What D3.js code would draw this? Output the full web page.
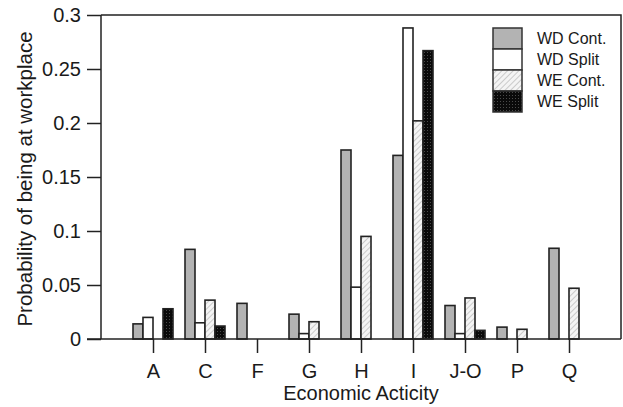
<!DOCTYPE html>
<html>
<head>
<meta charset="utf-8">
<script src="https://cdn.jsdelivr.net/npm/d3@7"></script>
<style>
  body { margin: 0; background: #fff; }
  svg { display: block; font-family: "Liberation Sans", Arial, sans-serif; }
</style>
</head>
<body>
<svg id="chart" width="623" height="407"></svg>
<script>
// Economic activity sections
const categories = ["A", "C", "F", "G", "H", "I", "J-O", "P", "Q"];
// Series names
const seriesNames = ["WD Cont.", "WD Split", "WE Cont.", "WE Split"];
// Probability of being at the workplace, per series
const wdCont  = [0.014, 0.083, 0.033, 0.023, 0.175, 0.170, 0.031, 0.011, 0.084];
const wdSplit = [0.020, 0.015, 0.000, 0.005, 0.048, 0.288, 0.005, 0.000, 0.000];
const weCont  = [0.000, 0.036, 0.000, 0.016, 0.095, 0.202, 0.038, 0.009, 0.047];
const weSplit = [0.028, 0.012, 0.000, 0.000, 0.000, 0.267, 0.008, 0.000, 0.000];
// Y axis ticks
const yTicks = [0, 0.05, 0.1, 0.15, 0.2, 0.25, 0.3];
const yTickLabels = ["0", "0.05", "0.1", "0.15", "0.2", "0.25", "0.3"];

const seriesValues = [wdCont, wdSplit, weCont, weSplit];

const svg = d3.select("#chart");
const plotLeft = 101, plotRight = 621, plotTop = 15, plotBottom = 339;

// Fill patterns
const defs = svg.append("defs");
const hatch = defs.append("pattern")
  .attr("id", "hatch").attr("patternUnits", "userSpaceOnUse")
  .attr("width", 4).attr("height", 4)
  .attr("patternTransform", "rotate(45)");
hatch.append("rect").attr("width", 4).attr("height", 4).attr("fill", "#f4f4f4");
hatch.append("line").attr("x1", 0).attr("y1", 0).attr("x2", 0).attr("y2", 4)
  .attr("stroke", "#b8b8b8").attr("stroke-width", 1.4);

const dots = defs.append("pattern")
  .attr("id", "dots").attr("patternUnits", "userSpaceOnUse")
  .attr("width", 3).attr("height", 3);
dots.append("rect").attr("width", 3).attr("height", 3).attr("fill", "#0a0a0a");
dots.append("rect").attr("x", 1).attr("y", 1).attr("width", 1).attr("height", 1).attr("fill", "#4a4a4a");

const fills = ["#b3b3b3", "#ffffff", "url(#hatch)", "url(#dots)"];

// Scales
const x0 = d3.scalePoint().domain(categories).range([plotLeft, plotRight]).padding(1);
const x1 = d3.scaleBand().domain(seriesNames).range([-20, 20]);
const y = d3.scaleLinear().domain([0, 0.3]).range([plotBottom, plotTop]);

const textColor = "#1a1a1a";
const fontFamily = "Liberation Sans, Arial, sans-serif";

// Frame (top and right edges)
svg.append("path")
  .attr("d", `M${plotLeft},${plotTop}H${plotRight}V${plotBottom}`)
  .attr("fill", "none").attr("stroke", "#222").attr("stroke-width", 1.5);

// Bars
const rows = [];
categories.forEach((c, i) => {
  seriesNames.forEach((s, j) => {
    rows.push({ cat: c, series: s, value: seriesValues[j][i], idx: j });
  });
});

svg.append("g").selectAll("rect")
  .data(rows.filter(d => d.value > 0))
  .join("rect")
  .attr("x", d => x0(d.cat) + x1(d.series))
  .attr("width", x1.bandwidth())
  .attr("y", d => y(d.value))
  .attr("height", d => y(0) - y(d.value))
  .attr("fill", d => fills[d.idx])
  .attr("stroke", "#222")
  .attr("stroke-width", 1.6);

// Y axis
const yAxis = d3.axisLeft(y)
  .tickValues(yTicks)
  .tickFormat((d, i) => yTickLabels[i])
  .tickSize(14).tickPadding(6);
const gy = svg.append("g").attr("transform", `translate(${plotLeft},0)`).call(yAxis);
gy.select(".domain").attr("stroke", "#222").attr("stroke-width", 1.5)
  .attr("d", `M0,${plotTop}V${plotBottom}`);
gy.selectAll(".tick line").attr("stroke", "#222").attr("stroke-width", 1.5);
gy.selectAll(".tick text").attr("fill", textColor)
  .style("font-size", "20px").style("font-family", fontFamily);

// X axis
const xAxis = d3.axisBottom(x0).tickSize(14).tickPadding(11);
const gx = svg.append("g").attr("transform", `translate(0,${plotBottom})`).call(xAxis);
gx.select(".domain").attr("stroke", "#222").attr("stroke-width", 1.5)
  .attr("d", `M${plotLeft - 14},0H${plotRight}`);
gx.selectAll(".tick line").attr("stroke", "#222").attr("stroke-width", 1.5);
gx.selectAll(".tick text").attr("fill", textColor)
  .style("font-size", "20px").style("font-family", fontFamily);

// Axis titles
svg.append("text")
  .attr("x", 361).attr("y", 400)
  .attr("text-anchor", "middle")
  .attr("fill", textColor).style("font-size", "20px")
  .text("Economic Acticity");

svg.append("text")
  .attr("transform", `translate(32,179) rotate(-90)`)
  .attr("text-anchor", "middle")
  .attr("fill", textColor).style("font-size", "20.5px")
  .text("Probability of being at workplace");

// Legend
const legend = svg.append("g").attr("transform", "translate(493,28)");
seriesNames.forEach((s, j) => {
  legend.append("rect")
    .attr("x", 0).attr("y", j * 21)
    .attr("width", 29).attr("height", 21)
    .attr("fill", fills[j]).attr("stroke", "#333").attr("stroke-width", 1.5);
  legend.append("text")
    .attr("x", 44).attr("y", j * 21 + 16)
    .attr("fill", textColor).style("font-size", "16px")
    .text(s);
});
</script>
</body>
</html>
